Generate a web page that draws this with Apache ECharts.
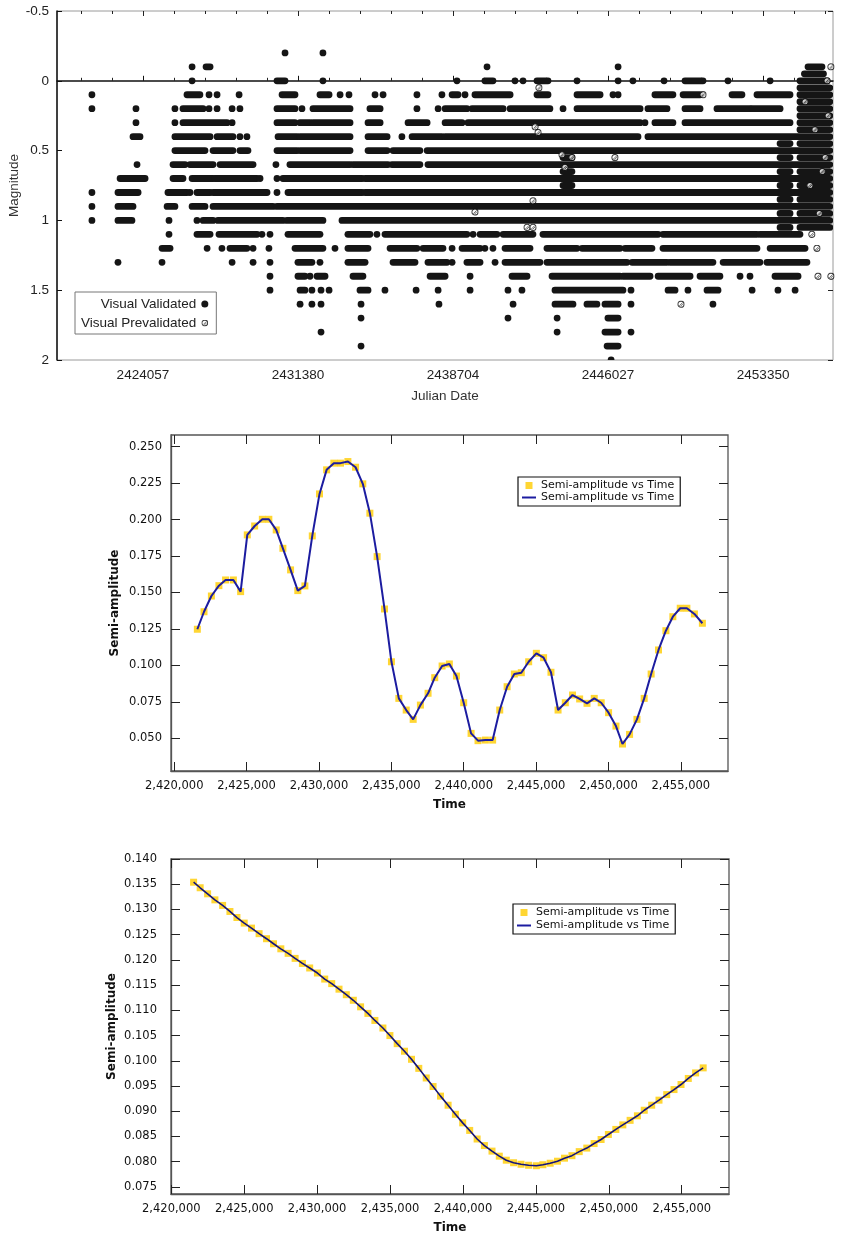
<!DOCTYPE html>
<html><head><meta charset="utf-8">
<script src="https://cdn.jsdelivr.net/npm/echarts@6/dist/echarts.min.js"></script>
<style>html,body{margin:0;padding:0;background:#fff}#c{width:844px;height:1237px}</style>
</head><body><div id="c"></div><script>
// ---------------- Panel 1: AAVSO-style light curve ----------------
const jdMajorTicks = [2424057, 2431380, 2438704, 2446027, 2453350];
const jdMinorTicks = [2421128, 2422592, 2425522, 2426986, 2428451, 2429916, 2432845, 2434310, 2435774, 2437239,
  2440169, 2441633, 2443098, 2444562, 2447492, 2448956, 2450421, 2451885, 2454815, 2456279];
const magLevels = [-0.2, -0.1, 0, 0.1, 0.2, 0.3, 0.4, 0.5, 0.6, 0.7, 0.8, 0.9, 1.0, 1.1, 1.2, 1.3, 1.4, 1.5, 1.6, 1.7, 1.8, 1.9, 2.0];
// runs of visual validated estimates per magnitude level: [startJD, endJD] or [JD]
const runsN02 = [[2430770],[2432560]];
const runsN01 = [[2426380],[2427040,2427230],[2440310],[2446500],[2455470,2456130]];
const runs000 = [[2426380],[2430390,2430770],[2432560],[2438890],[2440210,2440590],[2441630],[2442010],[2442670,2443190],[2444560],[2446500],[2447200],[2448670],[2449660,2450510],[2451690],[2453680],[2455090,2456370]];
const runs010 = [[2421650],[2426140,2426750],[2427180],[2427560],[2428600],[2430630,2431240],[2432420,2432850],[2433370],[2433790],[2435020],[2435400],[2437000],[2438180],[2438660,2438940],[2439270],[2439740,2441400],[2442670,2443190],[2444560,2445650],[2446260],[2446500],[2448240,2449090],[2449570,2450370],[2451880,2452350],[2453060,2454620],[2455090,2456500]];
const runs020 = [[2421650],[2423730],[2425570],[2425950,2426900],[2427180],[2427560],[2428270],[2428640],[2430390,2431240],[2431570],[2432090,2433840],[2434780,2435260],[2437000],[2438000],[2438330,2439360],[2439600,2441070],[2441400,2443280],[2443900],[2444560,2447540],[2447910,2448810],[2449660,2450370],[2451170,2452730],[2452830,2454150],[2455090,2456500]];
const runs030 = [[2423730],[2425570],[2425950,2428030],[2428270],[2430390,2431240],[2431480,2431950],[2432090,2433840],[2434690,2435260],[2436580,2437480],[2438330,2439130],[2439410,2447540],[2447770],[2448240,2449090],[2449660,2454620],[2455090,2456500]];
const runs040 = [[2423590,2423920],[2425570,2427230],[2427560,2428310],[2428640],[2428970],[2430440,2431340],[2431480,2433840],[2434690,2435590],[2436290],[2436770,2438180],[2438330,2447440],[2447910,2456500]];
const runs050 = [[2425570,2426990],[2427370,2428310],[2428640,2429020],[2430390,2431340],[2431480,2433840],[2434690,2435590],[2435870,2437140],[2437480,2456500]];
const runs060 = [[2423780],[2425480,2426050],[2426280,2427370],[2427700,2429260],[2430340],[2431000,2433840],[2433980,2435630],[2435820,2437140],[2437520,2456500]];
const runs070 = [[2422980,2424160],[2425480,2425950],[2426380,2427370],[2427460,2429450],[2429590],[2430390],[2430670,2434410],[2434550,2456500]];
const runs080 = [[2421650],[2422880,2423830],[2425240,2426140],[2426280],[2426610,2427230],[2427370,2429920],[2430390],[2430910,2434410],[2434550,2456500]];
const runs090 = [[2421650],[2422880,2423590],[2425200,2425570],[2426380,2426990],[2427370,2430200],[2430390,2456500]];
const runs100 = [[2421650],[2422880,2423540],[2425290],[2426610],[2426900,2427370],[2427600,2430670],[2430860,2432560],[2433460,2456500]];
const runs110 = [[2425290],[2426610,2427230],[2427650,2429450],[2429680],[2430060],[2430910,2432420],[2433740,2434780],[2435110],[2435490,2439360],[2439650],[2439980,2440780],[2441070,2442480],[2442950,2448390],[2448620,2453060],[2453200,2455090]];
const runs120 = [[2424960,2425340],[2427090],[2427790],[2428170,2428970],[2429260],[2430010],[2431240,2432560],[2433130],[2433740,2434690],[2435730,2437000],[2437290,2438230],[2438660],[2439130,2439980],[2440210],[2440590],[2441160,2442340],[2443140,2444560],[2444800,2446590],[2446830,2448100],[2448620,2453060],[2453680,2455330]];
const runs130 = [[2422880],[2424960],[2428270],[2429260],[2430060],[2431380,2432040],[2432420],[2433740,2434550],[2435870,2436910],[2437520,2438420],[2438660],[2439360,2439980],[2440690],[2441160,2442810],[2443140,2446920],[2447160,2448810],[2448950,2450980],[2451460,2453200],[2453530,2455420]];
const runs140 = [[2430060],[2431380,2431710],[2431950],[2432280,2432660],[2433980,2434450],[2437620,2438330],[2439510],[2441490,2442200],[2443380,2446590],[2446730,2448010],[2448390,2449900],[2450370,2451310],[2452260],[2452730],[2453910,2455000]];
const runs150 = [[2430060],[2431480,2431710],[2432040],[2432470],[2432850],[2434310,2434690],[2435490],[2436960],[2438000],[2439510],[2441300],[2441960],[2443520,2446730],[2447110],[2448860,2449190],[2449800],[2450700,2451220],[2452830],[2454050],[2454860]];
const runs160 = [[2431480],[2432040],[2432470],[2434360],[2438040],[2441540],[2443520,2444370],[2445030,2445500],[2445880,2446500],[2447110],[2450980]];
const runs170 = [[2434360],[2441300],[2443620],[2446020,2446500]];
const runs180 = [[2432470],[2443620],[2445880,2446500],[2447110]];
const runs190 = [[2434360],[2445980,2446500]];
const runs200 = [[2446170]];
// finer-resolution estimates: [mag, startJD, endJD]
const intermediateRuns = [
  [-0.05,2455300,2456200],[0.05,2455090,2456500],[0.15,2455090,2456500],[0.25,2455090,2456500],[0.35,2455090,2456500],
  [0.45,2455090,2456500],[0.55,2455090,2456500],[0.65,2455090,2456500],[0.75,2455090,2456500],[0.85,2455090,2456500],
  [0.95,2455090,2456500],[1.05,2455090,2456500],
  [0.45,2454150,2454620],[0.55,2454150,2454620],[0.65,2454150,2454620],[0.75,2454150,2454620],[0.85,2454150,2454620],[0.95,2454150,2454620],[1.05,2454150,2454620],
  [0.55,2443900,2444320],[0.65,2443900,2444320],[0.75,2443900,2444320]
];
// visual prevalidated: [JD, mag]
const prevalidated = [[2442760,0.05],[2442580,0.33],[2442720,0.37],[2443850,0.53],[2444320,0.55],[2443990,0.62],[2446350,0.55],
  [2442480,0.86],[2439740,0.94],[2442200,1.05],[2442480,1.05],[2450510,0.1],[2449470,1.6],[2455890,1.2],[2455940,1.4],
  [2456550,1.4],[2456550,-0.1],[2456370,0.0],[2455330,0.15],[2455800,0.35],[2456280,0.55],[2455560,0.75],[2456000,0.95],
  [2455650,1.1],[2456420,0.25],[2456140,0.65]];

// ---------------- Panel 2: semi-amplitude vs time ----------------
const time2 = [2421600,2422060,2422570,2423090,2423550,2424090,2424590,2425050,2425560,2426090,2426540,2427050,2427510,2428040,2428540,2429030,2429540,2430040,2430530,2431030,2431490,2432000,2432530,2433030,2433520,2434020,2434530,2435010,2435520,2436030,2436510,2437010,2437540,2438000,2438510,2439010,2439500,2440000,2440510,2440990,2441500,2442000,2442490,2443000,2443500,2443980,2444490,2445020,2445520,2446030,2446520,2447020,2447520,2448010,2448520,2449020,2449500,2450010,2450520,2450970,2451460,2451970,2452470,2452950,2453460,2453970,2454450,2454960,2455420,2455940,2456490];
const amp2 = [0.1248,0.1368,0.1476,0.1547,0.1586,0.1586,0.1506,0.1895,0.1956,0.2002,0.2002,0.1929,0.1803,0.1655,0.1513,0.1545,0.1888,0.2176,0.2341,0.2387,0.2387,0.2398,0.2359,0.2245,0.2044,0.1746,0.1387,0.1025,0.0774,0.0694,0.0630,0.0728,0.0809,0.0916,0.0996,0.1010,0.0927,0.0744,0.0534,0.0484,0.0488,0.0488,0.0694,0.0854,0.0941,0.0950,0.1025,0.1083,0.1053,0.0953,0.0694,0.0744,0.0797,0.0770,0.0740,0.0774,0.0744,0.0676,0.0584,0.0461,0.0527,0.0630,0.0774,0.0941,0.1106,0.1238,0.1334,0.1392,0.1392,0.1353,0.1289];
const xTicks23 = [2420000, 2425000, 2430000, 2435000, 2440000, 2445000, 2450000, 2455000];
const yTicks2 = [0.050, 0.075, 0.100, 0.125, 0.150, 0.175, 0.200, 0.225, 0.250];

// ---------------- Panel 3: semi-amplitude vs time (smoothed) ----------------
const time3 = [2421530,2421980,2422490,2422990,2423520,2424020,2424500,2425000,2425500,2426020,2426530,2427010,2427510,2428010,2428490,2428990,2429490,2430020,2430520,2431000,2431500,2432000,2432480,2432980,2433480,2433960,2434510,2434990,2435490,2435990,2436470,2436970,2437480,2437950,2438460,2438980,2439480,2439980,2440460,2440970,2441470,2441990,2442490,2442970,2443470,2443980,2444500,2445030,2445480,2445980,2446480,2446960,2447470,2447970,2448490,2448990,2449470,2449970,2450480,2450960,2451460,2451960,2452430,2452940,2453440,2453970,2454470,2454950,2455450,2455950,2456470];
const amp3 = [0.1354,0.1343,0.1331,0.1319,0.1308,0.1296,0.1284,0.1273,0.1263,0.1252,0.1242,0.1232,0.1222,0.1213,0.1203,0.1193,0.1184,0.1174,0.1162,0.1153,0.1142,0.1131,0.1120,0.1107,0.1094,0.1080,0.1065,0.1050,0.1034,0.1019,0.1003,0.0985,0.0966,0.0949,0.0930,0.0912,0.0894,0.0877,0.0862,0.0845,0.0832,0.0821,0.0811,0.0803,0.0798,0.0795,0.0793,0.0792,0.0794,0.0797,0.0801,0.0807,0.0812,0.0820,0.0827,0.0836,0.0844,0.0854,0.0864,0.0873,0.0882,0.0891,0.0902,0.0912,0.0922,0.0933,0.0943,0.0953,0.0965,0.0976,0.0986];
const yTicks3 = [0.075, 0.080, 0.085, 0.090, 0.095, 0.100, 0.105, 0.110, 0.115, 0.120, 0.125, 0.130, 0.135, 0.140];

const seriesName = 'Semi-amplitude vs Time';
const seriesNameLine = 'Semi-amplitude vs Time\u200b';

// ---------------- build ----------------
const levelRuns = [runsN02, runsN01, runs000, runs010, runs020, runs030, runs040, runs050, runs060, runs070, runs080, runs090, runs100,
  runs110, runs120, runs130, runs140, runs150, runs160, runs170, runs180, runs190, runs200];
const validatedData = [];
levelRuns.forEach((runs, i) => runs.forEach(r => validatedData.push([r[0], r.length > 1 ? r[1] : r[0], magLevels[i]])));
intermediateRuns.forEach(r => validatedData.push([r[1], r[2], r[0]]));

const hatchIcon = 'image://data:image/svg+xml;utf8,' + encodeURIComponent(
  "<svg xmlns='http://www.w3.org/2000/svg' width='16' height='16'><circle cx='8' cy='8' r='6.6' fill='white' stroke='#111' stroke-width='2.4'/><path d='M4.5 11.5 L11.5 4.5 M7 12.5 L12.5 7' stroke='#111' stroke-width='1.6'/></svg>");

const comma = v => String(Math.round(v)).replace(/\B(?=(\d{3})+(?!\d))/g, ',');
const F1 = 'Liberation Sans', F2 = 'DejaVu Sans';

function tickAxis(gridIndex, position, min, max, values, len, opts) {
  opts = opts || {};
  return {
    type: 'value', gridIndex, position, min, max, inverse: !!opts.inverse,
    axisLine: { show: !!opts.line, lineStyle: { color: opts.lineColor || '#000', width: opts.lineWidth || 1 } },
    axisTick: { show: true, inside: true, length: len, customValues: values, lineStyle: { color: opts.tickColor || '#222', width: 1 } },
    axisLabel: { show: false }, splitLine: { show: false }
  };
}

const X1 = [2420000, 2456650], Y1 = [-0.5, 2];
const X2 = [2419780, 2458260], Y2 = [0.0276, 0.258];
const X3 = [2419980, 2458240], Y3 = [0.0736, 0.140];

const option = {
  animation: false,
  backgroundColor: '#fff',
  grid: [
    { left: 57, top: 11, width: 776, height: 349, show: true, borderColor: '#9a9a9a', borderWidth: 1, outerBoundsMode: 'none', containLabel: false },
    { left: 171, top: 435, width: 557, height: 336, show: true, borderColor: '#555', borderWidth: 1.3, outerBoundsMode: 'none', containLabel: false },
    { left: 171, top: 859, width: 558, height: 335, show: true, borderColor: '#555', borderWidth: 1.3, outerBoundsMode: 'none', containLabel: false }
  ],
  xAxis: [
    { type: 'value', gridIndex: 0, position: 'bottom', min: X1[0], max: X1[1],
      name: 'Julian Date', nameLocation: 'middle', nameGap: 29,
      nameTextStyle: { fontFamily: F1, fontSize: 13.5, color: '#333' },
      axisLine: { show: true, lineStyle: { color: '#111', width: 1.5 } },
      axisTick: { show: true, inside: true, length: 5, customValues: jdMajorTicks, lineStyle: { color: '#111' } },
      axisLabel: { show: true, customValues: jdMajorTicks, margin: 8, fontFamily: F1, fontSize: 13.5, color: '#222', formatter: v => String(v) },
      splitLine: { show: false } },
    tickAxis(0, 'bottom', X1[0], X1[1], jdMinorTicks, 3),
    tickAxis(0, 'top', X1[0], X1[1], jdMajorTicks, 5),
    tickAxis(0, 'top', X1[0], X1[1], jdMinorTicks, 3),
    { type: 'value', gridIndex: 1, position: 'bottom', min: X2[0], max: X2[1],
      name: 'Time', nameLocation: 'middle', nameGap: 28,
      nameTextStyle: { fontFamily: F2, fontSize: 12, fontWeight: 'bold', color: '#111' },
      axisLine: { show: true, lineStyle: { color: '#555', width: 1.3 } },
      axisTick: { show: true, inside: true, length: 9, customValues: xTicks23, lineStyle: { color: '#222' } },
      axisLabel: { show: true, customValues: xTicks23, margin: 9, fontFamily: F2, fontSize: 11.5, color: '#111', formatter: comma },
      splitLine: { show: false } },
    tickAxis(1, 'top', X2[0], X2[1], xTicks23, 9),
    { type: 'value', gridIndex: 2, position: 'bottom', min: X3[0], max: X3[1],
      name: 'Time', nameLocation: 'middle', nameGap: 28,
      nameTextStyle: { fontFamily: F2, fontSize: 12, fontWeight: 'bold', color: '#111' },
      axisLine: { show: true, lineStyle: { color: '#555', width: 1.3 } },
      axisTick: { show: true, inside: true, length: 9, customValues: xTicks23, lineStyle: { color: '#222' } },
      axisLabel: { show: true, customValues: xTicks23, margin: 9, fontFamily: F2, fontSize: 11.5, color: '#111', formatter: comma },
      splitLine: { show: false } },
    tickAxis(2, 'top', X3[0], X3[1], xTicks23, 9)
  ],
  yAxis: [
    { type: 'value', gridIndex: 0, position: 'left', min: Y1[0], max: Y1[1], interval: 0.5, inverse: true,
      name: 'Magnitude', nameLocation: 'middle', nameGap: 36, nameRotate: 90, nameMoveOverlap: false,
      nameTextStyle: { fontFamily: F1, fontSize: 13.5, color: '#333' },
      axisLine: { show: true, lineStyle: { color: '#111', width: 1.5 } },
      axisTick: { show: true, inside: true, length: 5, lineStyle: { color: '#111' } },
      axisLabel: { show: true, margin: 8, fontFamily: F1, fontSize: 13.5, color: '#222' },
      splitLine: { show: false } },
    { type: 'value', gridIndex: 0, position: 'right', min: Y1[0], max: Y1[1], interval: 0.5, inverse: true,
      axisLine: { show: false }, axisTick: { show: true, inside: true, length: 5, lineStyle: { color: '#222' } },
      axisLabel: { show: false }, splitLine: { show: false } },
    { type: 'value', gridIndex: 1, position: 'left', min: Y2[0], max: Y2[1],
      name: 'Semi-amplitude', nameLocation: 'middle', nameGap: 50, nameRotate: 90, nameMoveOverlap: false,
      nameTextStyle: { fontFamily: F2, fontSize: 12, fontWeight: 'bold', color: '#111' },
      axisLine: { show: true, lineStyle: { color: '#555', width: 1.3 } },
      axisTick: { show: true, inside: true, length: 9, customValues: yTicks2, lineStyle: { color: '#222' } },
      axisLabel: { show: true, customValues: yTicks2, margin: 9, fontFamily: F2, fontSize: 11.5, color: '#111', formatter: v => v.toFixed(3) },
      splitLine: { show: false } },
    tickAxis(1, 'right', Y2[0], Y2[1], yTicks2, 9),
    { type: 'value', gridIndex: 2, position: 'left', min: Y3[0], max: Y3[1],
      name: 'Semi-amplitude', nameLocation: 'middle', nameGap: 53, nameRotate: 90, nameMoveOverlap: false,
      nameTextStyle: { fontFamily: F2, fontSize: 12, fontWeight: 'bold', color: '#111' },
      axisLine: { show: true, lineStyle: { color: '#555', width: 1.3 } },
      axisTick: { show: true, inside: true, length: 9, customValues: yTicks3, lineStyle: { color: '#222' } },
      axisLabel: { show: true, customValues: yTicks3, margin: 14, fontFamily: F2, fontSize: 11.5, color: '#111', formatter: v => v.toFixed(3) },
      splitLine: { show: false } },
    tickAxis(2, 'right', Y3[0], Y3[1], yTicks3, 9)
  ],
  legend: [
    { orient: 'vertical', left: 75, top: 292, align: 'right', selectedMode: false,
      itemWidth: 7, itemHeight: 7, itemGap: 5, padding: [5, 8, 4, 6],
      backgroundColor: '#fff', borderColor: '#777', borderWidth: 1,
      textStyle: { fontFamily: F1, fontSize: 13.5, color: '#222', width: 119 },
      data: [ { name: 'Visual Validated', icon: 'circle', itemStyle: { color: '#151515' } },
              { name: 'Visual Prevalidated', icon: hatchIcon } ] },
    { orient: 'vertical', left: 518, top: 477, selectedMode: false,
      itemWidth: 14, itemHeight: 7, itemGap: 1, padding: [3, 6, 3, 4],
      backgroundColor: '#fff', borderColor: '#111', borderWidth: 1.2,
      textStyle: { fontFamily: F2, fontSize: 11, color: '#111' },
      data: [ { name: seriesName, icon: 'path://M0,0L1,0L1,1L0,1Z', itemStyle: { color: '#FFCC00', borderWidth: 0 } },
              { name: seriesNameLine, icon: 'path://M0,0L14,0L14,2L0,2Z', itemStyle: { color: '#1c1ca0', borderWidth: 0 } } ] },
    { orient: 'vertical', left: 513, top: 904, selectedMode: false,
      itemWidth: 14, itemHeight: 7, itemGap: 2, padding: [3, 6, 3, 4],
      backgroundColor: '#fff', borderColor: '#111', borderWidth: 1.2,
      textStyle: { fontFamily: F2, fontSize: 11, color: '#111' },
      data: [ { name: seriesName, icon: 'path://M0,0L1,0L1,1L0,1Z', itemStyle: { color: '#FFCC00', borderWidth: 0 } },
              { name: seriesNameLine, icon: 'path://M0,0L14,0L14,2L0,2Z', itemStyle: { color: '#1c1ca0', borderWidth: 0 } } ] }
  ],
  series: [
    { type: 'custom', name: 'Visual Validated', xAxisIndex: 0, yAxisIndex: 0, clip: true,
      itemStyle: { color: '#151515' },
      encode: { x: [0, 1], y: 2 },
      data: validatedData,
      renderItem: function (params, api) {
        const p1 = api.coord([api.value(0), api.value(2)]);
        const p2 = api.coord([api.value(1), api.value(2)]);
        const r = 3.4;
        return { type: 'rect', shape: { x: p1[0] - r, y: p1[1] - r, width: p2[0] - p1[0] + 2 * r, height: 2 * r, r: r },
                 style: { fill: '#151515' } };
      } },
    { type: 'scatter', name: 'Visual Prevalidated', xAxisIndex: 0, yAxisIndex: 0, symbol: hatchIcon, symbolSize: 7.5, z: 3,
      data: prevalidated },
    { type: 'scatter', name: seriesName, xAxisIndex: 4, yAxisIndex: 2, symbol: 'rect', symbolSize: 7,
      itemStyle: { color: '#FFCC00' }, z: 2,
      data: time2.map((t, i) => [t, amp2[i]]) },
    { type: 'line', name: seriesNameLine, xAxisIndex: 4, yAxisIndex: 2, showSymbol: false, symbol: 'none', z: 3,
      lineStyle: { color: '#1c1ca0', width: 2 }, itemStyle: { color: '#1c1ca0' },
      data: time2.map((t, i) => [t, amp2[i]]) },
    { type: 'scatter', name: seriesName, xAxisIndex: 6, yAxisIndex: 4, symbol: 'rect', symbolSize: 7,
      itemStyle: { color: '#FFCC00' }, z: 2,
      data: time3.map((t, i) => [t, amp3[i]]) },
    { type: 'line', name: seriesNameLine, xAxisIndex: 6, yAxisIndex: 4, showSymbol: false, symbol: 'none', z: 3,
      lineStyle: { color: '#12127e', width: 1.6 }, itemStyle: { color: '#12127e' },
      data: time3.map((t, i) => [t, amp3[i]]) }
  ]
};
const chart = echarts.init(document.getElementById('c'), null, { renderer: 'canvas' });
chart.setOption(option);
</script></body></html>
